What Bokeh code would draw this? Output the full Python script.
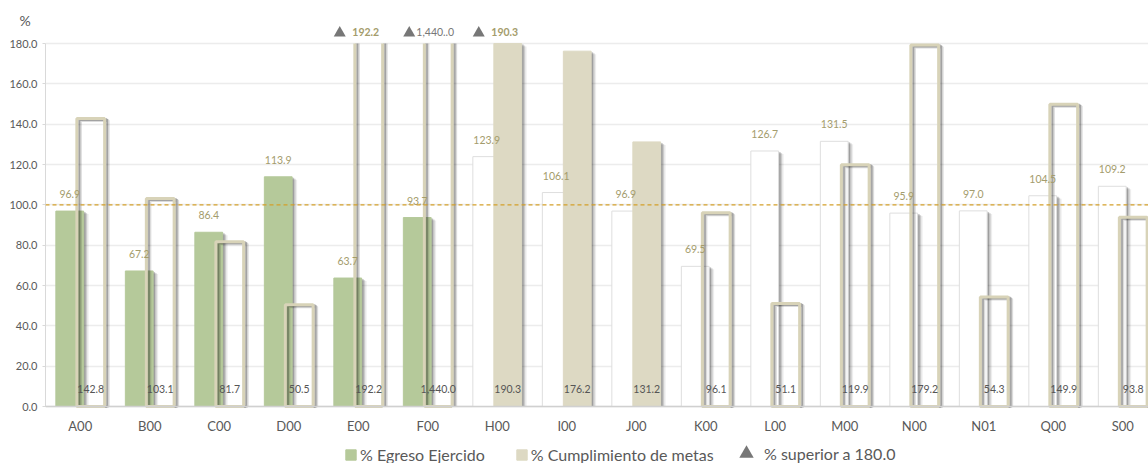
import numpy as np
from bokeh.plotting import figure
from bokeh.models import (ColumnDataSource, FixedTicker, Span, Legend, LegendItem,
                          Range1d, PrintfTickFormatter)
from bokeh.core.properties import value
from bokeh.embed import file_html
from bokeh.resources import INLINE

# ---------------- data ----------------
categories = ["A00", "B00", "C00", "D00", "E00", "F00", "H00", "I00",
              "J00", "K00", "L00", "M00", "N00", "N01", "Q00", "S00"]
egreso = [96.9, 67.2, 86.4, 113.9, 63.7, 93.7, 123.9, 106.1,
          96.9, 69.5, 126.7, 131.5, 95.9, 97.0, 104.5, 109.2]
cumplimiento = [142.8, 103.1, 81.7, 50.5, 192.2, 1440.0, 190.3, 176.2,
                131.2, 96.1, 51.1, 119.9, 179.2, 54.3, 149.9, 93.8]
egreso_green = [True] * 6 + [False] * 10               # style: green vs white bar
cumpl_filled = [False] * 6 + [True] * 3 + [False] * 7  # style: filled tan bars
top_label_override = {"F00": "1,440..0"}
y_ticks = [0, 20, 40, 60, 80, 100, 120, 140, 160, 180]
limit = 180.0
target = 100.0

# ---------------- styles ----------------
GREEN = "#b5c99a"
TAN = "#ddd9c3"
TAN_LINE = "#d8d3b8"
LBL_TAN = "#a49c6c"
GRAY_TXT = "#595959"
MARK = "#777777"
FONT = "Lato"

W, H = 1148, 463
LEFT, TOP = 45, 25
ZERO_Y = 406          # page row of the zero line
TOP_Y = 43            # page row of the 180 line
FW, FH = W - LEFT, H - TOP
CAT_PX = 69.5
PPU = (ZERO_Y - TOP_Y) / limit
X0 = -0.5
X1 = X0 + FW / CAT_PX
Y1 = limit + (TOP_Y - TOP) / PPU
Y0 = -(H - ZERO_Y) / PPU
PXX = (X1 - X0) / FW
PXY = 1.0 / PPU

n = len(categories)
idx = np.arange(n)
xe = idx - 0.151
xc = idx + 0.151
BW = 0.40

p = figure(width=W, height=H, output_backend="svg", toolbar_location=None,
           x_range=Range1d(X0, X1), y_range=Range1d(Y0, Y1),
           min_border_left=LEFT, min_border_right=0, min_border_top=TOP,
           min_border_bottom=0, outline_line_color=None,
           background_fill_color="white", border_fill_color="white",
           title="%")

p.title.text_font = FONT
p.title.text_font_size = "14px"
p.title.text_font_style = "normal"
p.title.text_color = GRAY_TXT
p.title.align = "left"
p.title.offset = -26
p.title.standoff = -7
p.title.vertical_align = "bottom"

# axes
p.yaxis.ticker = FixedTicker(ticks=y_ticks)
p.yaxis.formatter = PrintfTickFormatter(format="%.1f")
p.yaxis.bounds = (0, limit)
p.yaxis.axis_line_color = "#d9d9d9"
p.yaxis.major_tick_line_color = "#d9d9d9"
p.yaxis.major_tick_out = 3
p.yaxis.major_tick_in = 0
p.yaxis.minor_tick_line_color = None
p.yaxis.major_label_standoff = 5
p.yaxis.major_label_text_font = FONT
p.yaxis.major_label_text_font_size = "11px"
p.yaxis.major_label_text_color = GRAY_TXT
p.xaxis.visible = False

p.xgrid.visible = False
p.ygrid.ticker = FixedTicker(ticks=y_ticks)
p.ygrid.grid_line_color = "#ececec"
p.ygrid.grid_line_width = 1.5

eg = np.array(egreso)
cu = np.array(cumplimiento)
cu_clip = np.minimum(cu, limit)
g = np.array(egreso_green)
cf = np.array(cumpl_filled)
over = cu > limit

SHADOWS = [(5, 3, 0.07), (3.5, 2, 0.14), (2, 1, 0.22)]

# ---- egreso bars ----
for dx, dy, a in SHADOWS:
    p.vbar(x=xe + dx * PXX, top=eg - dy * PXY, bottom=0, width=BW,
           fill_color="black", fill_alpha=a, line_color=None)
p.vbar(x=xe[g], top=eg[g], width=BW, fill_color=GREEN, line_color=GREEN,
       line_width=1)
p.vbar(x=xe[~g], top=eg[~g], width=BW, fill_color="white",
       line_color="#dedede", line_width=1)

# ---- cumplimiento bars ----
# filled
for dx, dy, a in SHADOWS:
    p.vbar(x=xc[cf] + dx * PXX, top=cu_clip[cf] - dy * PXY, bottom=0,
           width=BW, fill_color="black", fill_alpha=a, line_color=None)
p.vbar(x=xc[cf], top=cu_clip[cf], width=BW, fill_color=TAN, line_color=TAN,
       line_width=1)

# outlined, not clipped
m = (~cf) & (~over)
for dx, dy, a in [(3.5, 2, 0.14), (2, 1, 0.26)]:
    p.vbar(x=xc[m] + dx * PXX, top=cu_clip[m] - dy * PXY, bottom=0,
           width=BW, fill_color=None, line_color="black", line_alpha=a,
           line_width=3)
p.vbar(x=xc[m], top=cu_clip[m], width=BW, fill_color=None, line_color=TAN_LINE,
       line_width=3)

# outlined, clipped at the limit (no top edge)
m2 = (~cf) & over
xl = np.concatenate([xc[m2] - BW / 2, xc[m2] + BW / 2])
for dx, dy, a in [(3.5, 2, 0.14), (2, 1, 0.26)]:
    p.segment(x0=xl + dx * PXX, y0=np.zeros(len(xl)),
              x1=xl + dx * PXX, y1=np.full(len(xl), limit),
              line_color="black", line_alpha=a, line_width=3)
p.segment(x0=xl, y0=np.zeros(len(xl)), x1=xl, y1=np.full(len(xl), limit),
          line_color=TAN_LINE, line_width=3)
p.segment(x0=xc[m2] - BW / 2, y0=np.zeros(m2.sum()), x1=xc[m2] + BW / 2,
          y1=np.zeros(m2.sum()), line_color=TAN_LINE, line_width=3)

# zero line (x axis rule) and target line
p.add_layout(Span(location=0, dimension="width", line_color="#d0d0d0",
                  line_width=1.5))
p.add_layout(Span(location=target, dimension="width", line_color="#d4a02a",
                  line_dash="4 3", line_width=1.2))

# category labels
p.text(x=idx, y=np.zeros(n), text=categories, text_align="center",
       text_baseline="middle", y_offset=19, text_font=value(FONT),
       text_font_size="13px", text_color=GRAY_TXT)

# labels above egreso bars
p.text(x=xe, y=eg, text=[f"{v:.1f}" for v in egreso], text_align="center",
       text_baseline="middle", y_offset=-17, text_font=value(FONT),
       text_font_size="10.5px", text_color=LBL_TAN)

# labels of cumplimiento at the bottom
p.text(x=xc, y=np.zeros(n), text=[f"{v:,.1f}" for v in cumplimiento],
       text_align="center", text_baseline="middle", y_offset=-18,
       text_font=value(FONT), text_font_size="10.5px", text_color="#555555")

# overflow markers
ov_cats = [c for c, o in zip(categories, over) if o]
ov_vals = cu[over]
ov_text = [top_label_override.get(c, f"{v:,.1f}") for c, v in zip(ov_cats, ov_vals)]
ov_color = [MARK if c in top_label_override else LBL_TAN for c in ov_cats]
ov_style = ["normal" if c in top_label_override else "bold" for c in ov_cats]
src_ov = ColumnDataSource(dict(x=xc[over], y=np.full(over.sum(), limit),
                               t=ov_text, c=ov_color, s=ov_style))
p.text(x="x", y="y", text="t", source=src_ov, text_align="center",
       text_baseline="middle", x_offset=-3, y_offset=-12, text_font=value(FONT),
       text_font_size="10.5px", text_color="c", text_font_style="s")
p.scatter(x=xc[over] - 29 * PXX, y=np.full(over.sum(), limit + 10.5 * PXY),
          marker="triangle", size=12, fill_color=MARK, line_color=None)

# legends (proxy renderers kept outside the visible ranges)
far = X0 - 100
r1 = p.vbar(x=[far], top=[1], width=0.1, fill_color=GREEN, line_color=GREEN)
r2 = p.vbar(x=[far], top=[1], width=0.1, fill_color=TAN, line_color=TAN)
r3 = p.scatter(x=[far], y=[1], marker="triangle", size=15,
               fill_color=MARK, line_color=None)
common = dict(orientation="horizontal", padding=0, margin=0,
              border_line_color=None, background_fill_alpha=0,
              label_text_font=FONT, label_text_font_size="16px",
              label_text_color=GRAY_TXT)
legend = Legend(items=[LegendItem(label="% Egreso Ejercido", renderers=[r1]),
                       LegendItem(label="% Cumplimiento de metas", renderers=[r2])],
                location=(299, -1), glyph_width=13, glyph_height=13,
                label_standoff=3, spacing=30, **common)
legend2 = Legend(items=[LegendItem(label="% superior a 180.0", renderers=[r3])],
                 location=(683, -8), glyph_width=36, glyph_height=36,
                 label_standoff=0, **common)
p.add_layout(legend)
p.add_layout(legend2)

open("out.html", "w").write(file_html(p, INLINE))
